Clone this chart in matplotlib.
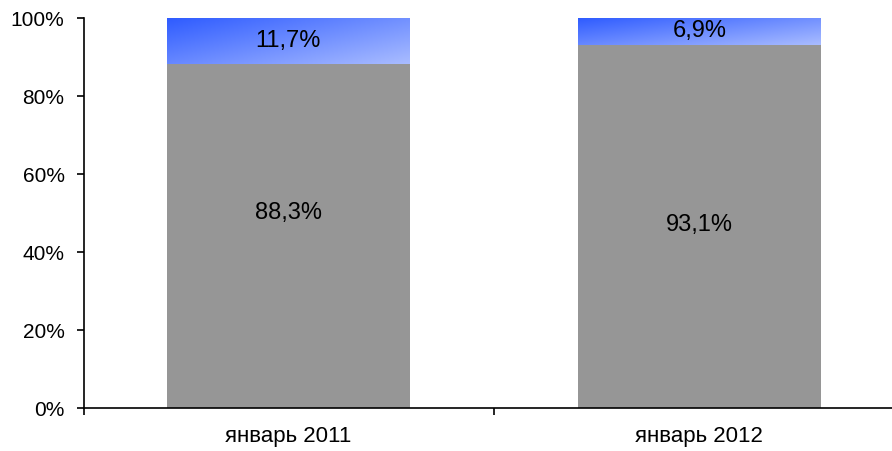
import matplotlib
matplotlib.use('Agg')
import matplotlib.pyplot as plt
import numpy as np
from matplotlib.colors import LinearSegmentedColormap

categories = ['январь 2011', 'январь 2012']
grey_vals = [88.3, 93.1]
blue_vals = [11.7, 6.9]
grey_labels = ['88,3%', '93,1%']
blue_labels = ['11,7%', '6,9%']
# where Excel put the grey labels (in % of axis)
grey_label_y = [50.0, 47.0]

plt.rcParams['font.family'] = ['Liberation Sans', 'DejaVu Sans']
plt.rcParams['font.size'] = 15

fig = plt.figure(figsize=(8.92, 4.51), dpi=100)
# axis runs past the right edge of the picture, like the original
ax = fig.add_axes([84/892, 43/451, 822/892, 390/451])

x = np.arange(len(categories))
width = 0.59
ax.bar(x, grey_vals, width, color='#969696', zorder=2)
tops = ax.bar(x, blue_vals, width, bottom=grey_vals, color='none', zorder=2)

# diagonal blue gradient, dark top-left to light bottom-right
cmap = LinearSegmentedColormap.from_list('bl', ['#2f5cff', '#a9bcff'])
gx, gy = np.meshgrid(np.linspace(0, 1, 200), np.linspace(0, 1, 50))
grad = 0.55 * gx + 0.45 * gy
for r in tops:
	x0, y0 = r.get_x(), r.get_y()
	w, h = r.get_width(), r.get_height()
	ax.imshow(grad, cmap=cmap, extent=(x0, x0 + w, y0, y0 + h), origin='upper',
		aspect='auto', zorder=2, interpolation='bilinear')

for i in range(len(categories)):
	ax.text(x[i], grey_label_y[i], grey_labels[i], ha='center', va='center', fontsize=17, zorder=3)
	ax.text(x[i], grey_vals[i] + blue_vals[i] / 2, blue_labels[i], ha='center', va='center', fontsize=17, zorder=3)

ax.set_xlim(-0.497, 1.503)
ax.set_ylim(0, 100)
ax.set_yticks(np.arange(0, 101, 20))
ax.set_yticklabels([str(v) + '%' for v in range(0, 101, 20)])
ax.set_xticks(x)
ax.set_xticklabels(categories, fontsize=16)
ax.set_xticks([-0.497, 0.5, 1.5], minor=True)
ax.tick_params(axis='x', which='major', length=0, pad=13)
ax.tick_params(axis='x', which='minor', length=5, direction='out', width=1.2)
ax.tick_params(axis='y', length=5, direction='out', width=1.2, pad=9)

ax.spines['top'].set_visible(False)
ax.spines['right'].set_visible(False)
ax.spines['left'].set_linewidth(1.2)
ax.spines['bottom'].set_linewidth(1.2)

fig.savefig('out.png', dpi=100)
